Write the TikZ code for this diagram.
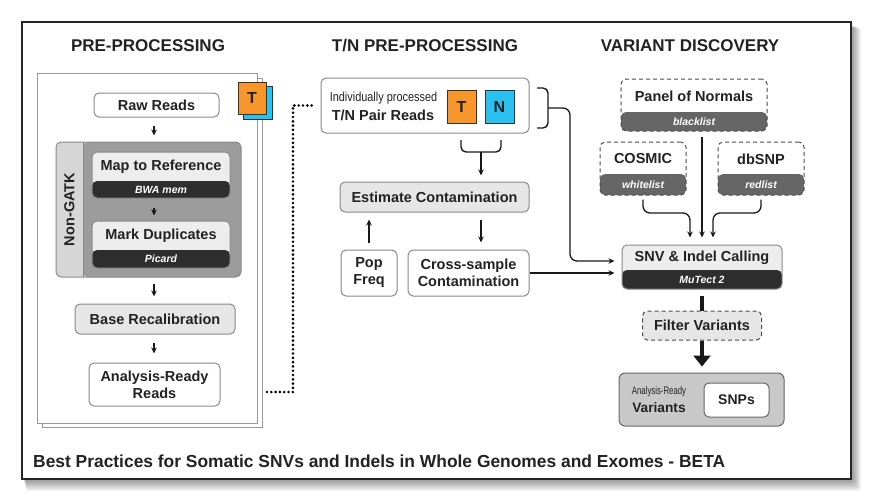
\documentclass[tikz,border=0pt]{standalone}
\usepackage{fontspec}
\usepackage{graphicx}
\setmainfont{Liberation Sans}
\usetikzlibrary{arrows.meta}
\definecolor{orangeT}{HTML}{F7962B}
\definecolor{blueN}{HTML}{29C2F0}
\definecolor{txtc}{HTML}{222222}
\definecolor{bordc}{HTML}{8A8A8A}
\definecolor{lightf}{HTML}{E6E6E6}
\definecolor{topf}{HTML}{EDEDED}
\definecolor{darkband}{HTML}{2E2E2E}
\definecolor{midband}{HTML}{666666}
\definecolor{ngstrip}{HTML}{D6D6D6}
\definecolor{ngmain}{HTML}{9C9C9C}
\definecolor{grpf}{HTML}{C8C8C8}
\definecolor{pagec}{HTML}{9A9A9A}
\begin{document}
\begin{tikzpicture}[x=1pt,y=-1pt,
  title/.style={font=\fontsize{17}{20}\selectfont\bfseries, text=txtc, inner sep=0},
  btxt/.style={font=\fontsize{14.5}{17}\selectfont\bfseries, text=txtc, align=center, inner sep=0},
  bandtxt/.style={font=\fontsize{10.5}{12}\selectfont\bfseries\itshape, text=white, inner sep=0},
  wbox/.style={draw=bordc, line width=1pt, fill=white, rounded corners=5pt, inner sep=0, font=\fontsize{14.5}{17}\selectfont\bfseries, text=txtc, align=center},
  gbox/.style={wbox, fill=lightf},
  splitbox/.style={draw=bordc, line width=1pt, fill=topf, rounded corners=5pt, inner sep=0},
  dashbox/.style={draw=black!70, line width=1pt, dash pattern=on 4pt off 3pt, fill=white, rounded corners=5pt, inner sep=0},
  band/.style 2 args={path picture={\fill[#1] (path picture bounding box.south west) rectangle ([yshift=#2]path picture bounding box.south east);}},
  page/.style={draw=pagec, line width=0.9pt, fill=white, inner sep=0},
  tile/.style={draw=black!80, line width=1pt, inner sep=0, font=\fontsize{16}{18}\selectfont\bfseries, text=txtc},
  sarrow/.style={-{Stealth[length=6pt,width=5.5pt]}, line width=1.3pt, draw=black!90},
  brline/.style={line width=1.4pt, draw=black!90, rounded corners=5pt},
  dotline/.style={line width=2.9pt, dash pattern=on 0pt off 4.3pt, line cap=round, draw=black},
  thickln/.style={line width=4.5pt, draw=black!90},
  thickarrow/.style={line width=4.5pt, draw=black!90, -{Triangle[length=11pt,width=17pt]}},
]
\useasboundingbox (0,0) rectangle (872,501);
\fill[white] (0,0) rectangle (872,501);
% shadow of outer frame
\foreach \i in {1,...,10} {
  \fill[black, opacity=0.045, rounded corners=3pt] (23+\i*0.3,24+\i*0.4) rectangle (852+\i*0.9,480+\i*1.1);
}
\node[draw=black!85, line width=1.2pt, fill=white, minimum width=829pt, minimum height=457pt, inner sep=0] (frame) at (436.5,250.5) {};

% titles
\node[title] (t1) at (148,46) {PRE-PROCESSING};
\node[title] (t2) at (425,46) {T/N PRE-PROCESSING};
\node[title] (t3) at (690,46) {VARIANT DISCOVERY};

% ---------- PRE-PROCESSING ----------
\node[page, minimum width=220pt, minimum height=349pt] (pageback) at (152,252.5) {};
\node[page, minimum width=220pt, minimum height=350pt] (page) at (147,248) {};
\node[tile, fill=blueN, minimum width=29pt, minimum height=33pt] (tileN) at (257.5,102.5) {};
\node[tile, fill=orangeT, minimum width=28pt, minimum height=32pt] (tileT) at (252,98) {T};

\coordinate (colx) at (154,0);
\node[wbox, minimum width=125pt, minimum height=24pt] (raw) at (156.5,105) {Raw Reads};

\node[draw=bordc, line width=1pt, fill=ngstrip, rounded corners=5pt, inner sep=0,
      minimum width=185pt, minimum height=135pt,
      path picture={\fill[ngmain] ([xshift=27pt]path picture bounding box.south west) rectangle (path picture bounding box.north east);
                    \draw[bordc, line width=1pt] ([xshift=27pt]path picture bounding box.south west) -- ([xshift=27pt]path picture bounding box.north west);}] (ngatk) at (148.5,209.5) {};
\node[btxt, rotate=90] (nglbl) at (69.5,209.5) {Non-GATK};

\node[splitbox, minimum width=138pt, minimum height=46pt, band={darkband}{17pt}] (map) at (161,175) {};
\node[btxt] (maplbl) at (161,166.5) {Map to Reference};
\node[bandtxt] (maptool) at (161,189.5) {BWA mem};

\node[splitbox, minimum width=138pt, minimum height=47pt, band={darkband}{18pt}] (mark) at (161,244.5) {};
\node[btxt] (marklbl) at (161,235.5) {Mark Duplicates};
\node[bandtxt] (marktool) at (161,259) {Picard};

\node[gbox, minimum width=160pt, minimum height=30pt] (bqsr) at (155,319) {Base Recalibration};
\node[wbox, minimum width=131pt, minimum height=43pt] (arr) at (154.5,384.5) {Analysis-Ready\\Reads};

\draw[sarrow, shorten <=8pt, shorten >=6pt] (raw.south -| colx) -- (ngatk.north -| colx);
\draw[sarrow, shorten <=9pt, shorten >=5pt] (map.south -| colx) -- (mark.north -| colx);
\draw[sarrow, shorten <=6pt, shorten >=7pt] (ngatk.south -| colx) -- (bqsr.north -| colx);
\draw[sarrow, shorten <=8pt, shorten >=9pt] (bqsr.south -| colx) -- (arr.north -| colx);

% ---------- T/N PRE-PROCESSING ----------
\node[wbox, minimum width=208pt, minimum height=55pt] (tnbox) at (425,105.5) {};
\node[inner sep=0, text=txtc] (indiv) at (383.5,98) {\scalebox{0.84}[1]{\fontsize{13}{15}\selectfont Individually processed}};
\node[btxt] (tnlbl) at (383,115.5) {T/N Pair Reads};
\node[tile, fill=orangeT, minimum width=29pt, minimum height=33pt] (tT) at (461.5,106.5) {T};
\node[tile, fill=blueN, minimum width=29pt, minimum height=33pt] (tN) at (499.5,106.5) {N};

\coordinate (dotstart) at (267,392);
\coordinate (dotx) at (293,0);
\draw[dotline, shorten >=6pt] (dotstart) -- (dotstart -| dotx) -- (dotx |- tnbox.west) -- (tnbox.west);

\draw[brline] (537,88) -- (548,88) -- (548,128) -- (537,128);
\coordinate (brk) at (548,108);
\draw[brline] (461,140) -- (461,152) -- (501,152) -- (501,140);
\coordinate (brk2) at (481,152);

\node[gbox, minimum width=189pt, minimum height=30pt] (estc) at (434.5,197) {Estimate Contamination};
\node[wbox, minimum width=56pt, minimum height=46pt] (pop) at (369,273) {Pop\\Freq};
\node[wbox, minimum width=121pt, minimum height=46pt] (cross) at (468.5,273) {Cross-sample\\Contamination};

\draw[sarrow, shorten >=6pt] (brk2) -- (brk2 |- estc.north);
\draw[sarrow, shorten <=7pt, shorten >=7pt] (pop.north) -- (pop.north |- estc.south);
\draw[sarrow, shorten <=7pt, shorten >=7pt] (brk2 |- estc.south) -- (brk2 |- cross.north);

% ---------- VARIANT DISCOVERY ----------
\node[dashbox, minimum width=146pt, minimum height=52pt, band={midband}{19pt}] (pon) at (694,105) {};
\node[btxt] (ponlbl) at (694,96) {Panel of Normals};
\node[bandtxt] (pontag) at (694,121.5) {blacklist};

\node[dashbox, minimum width=86pt, minimum height=53pt, band={midband}{21pt}] (cosmic) at (643,168.5) {};
\node[btxt] (cosmiclbl) at (643,159) {COSMIC};
\node[bandtxt] (cosmictag) at (643,184.5) {whitelist};

\node[dashbox, minimum width=86pt, minimum height=53pt, band={midband}{21pt}] (dbsnp) at (761,168.5) {};
\node[btxt] (dbsnplbl) at (761,159) {dbSNP};
\node[bandtxt] (dbsnptag) at (761,184.5) {redlist};

\node[splitbox, minimum width=160pt, minimum height=44pt, band={darkband}{19pt}] (snv) at (702,267) {};
\node[btxt] (snvlbl) at (702,257.5) {SNV \& Indel Calling};
\node[bandtxt] (snvtool) at (702,279.5) {MuTect 2};

\coordinate (snvin1) at ([yshift=6pt]snv.west);
\coordinate (snvin2) at ([yshift=-6pt]snv.west);
\coordinate (vline) at (570,0);
\coordinate (bendy) at (0,213);
\coordinate (cx1) at (690,0);
\coordinate (cx2) at (713,0);

\draw[sarrow, rounded corners=7pt, shorten >=7pt] (brk) -- (brk -| vline) -- (vline |- snvin1) -- (snvin1);
\draw[sarrow, shorten >=7pt] (cross.east) -- (snvin2);

\draw[sarrow, shorten <=5pt, shorten >=7pt] (pon.south -| snv.north) -- (snv.north);
\draw[sarrow, rounded corners=7pt, shorten <=4pt, shorten >=7pt] (cosmic.south) -- (cosmic.south |- bendy) -- (bendy -| cx1) -- (cx1 |- snv.north);
\draw[sarrow, rounded corners=7pt, shorten <=4pt, shorten >=7pt] (dbsnp.south) -- (dbsnp.south |- bendy) -- (bendy -| cx2) -- (cx2 |- snv.north);

\node[dashbox, fill=lightf, minimum width=119pt, minimum height=29pt, font=\fontsize{14.5}{17}\selectfont\bfseries, text=txtc] (filter) at (702,325.5) {Filter Variants};
\draw[thickln, shorten <=6pt] (snv.south) -- (filter.north);

\node[draw=black!60, line width=1pt, fill=grpf, rounded corners=6pt, minimum width=165pt, minimum height=53pt, inner sep=0] (arv) at (701.5,399.5) {};
\node[inner sep=0, text=txtc] (arvsmall) at (659,392) {\scalebox{0.71}[1]{\fontsize{11}{13}\selectfont Analysis-Ready}};
\node[inner sep=0, text=txtc, font=\fontsize{13.7}{16}\selectfont\bfseries] (arvlbl) at (659,408) {Variants};
\node[wbox, draw=black!60, minimum width=65pt, minimum height=34pt, font=\fontsize{14}{16}\selectfont\bfseries] (snps) at (736.5,400) {SNPs};
\draw[thickarrow, shorten >=6pt] (filter.south) -- (filter.south |- arv.north);

% footer
\node[anchor=west, inner sep=0, text=txtc, font=\fontsize{17.4}{20}\selectfont\bfseries] (footer) at (33,461) {Best Practices for Somatic SNVs and Indels in Whole Genomes and Exomes - BETA};
\end{tikzpicture}
\end{document}
